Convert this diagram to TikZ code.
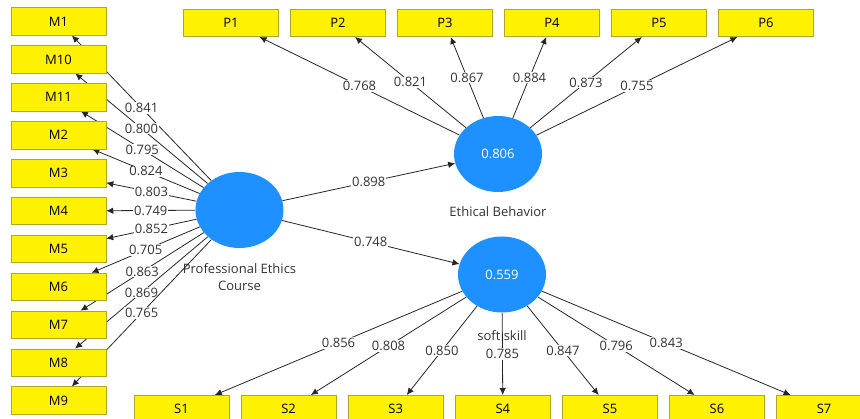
\documentclass[tikz,border=0pt]{standalone}
\usepackage{fontspec}
\setsansfont{Open Sans}
\usetikzlibrary{shapes.geometric,arrows.meta}
\definecolor{lvblue}{RGB}{30,144,255}
\definecolor{boxline}{RGB}{170,170,40}
\pgfdeclarelayer{edges}
\pgfsetlayers{edges,main}

\begin{document}
\begin{tikzpicture}[x=1pt,y=-1pt,font=\sffamily\fontsize{13}{16.5}\selectfont,
  ind/.style={draw=boxline,fill=yellow,line width=0.5pt,minimum width=95pt,minimum height=27.5pt,inner sep=0pt},
  lv/.style={ellipse,fill=lvblue,text=white,minimum width=88pt,minimum height=76pt,inner sep=0pt},
  arr/.style={-{Latex[length=7pt,width=6.5pt]},line width=0.8pt,black!85},
  load/.style={fill=white,inner sep=1pt,text=black!80}]
  \useasboundingbox (0,0) rectangle (860,419);

  \node[lv] (pec) at (239.5,210) {};
  \node[lv] (eb) at (498,154) {0.806};
  \node[lv] (ss) at (502,274.5) {0.559};

  \foreach \n [count=\i] in {1,10,11,2,3,4,5,6,7,8,9}
    \node[ind] (m\n) at (58.5,{21.5+37.9*(\i-1)}) {M\n};
  \foreach \i in {1,...,6}
    \node[ind] (p\i) at ({231+107*(\i-1)},23) {P\i};
  \foreach \i in {1,...,7}
    \node[ind] (s\i) at ({181.5+107.1*(\i-1)},409) {S\i};

  \begin{pgfonlayer}{edges}
  \node[text=black!80,align=center] (peclabel) at (239.5,277) {Professional Ethics\\Course};
  \node[text=black!80] (eblabel) at (498,212) {Ethical Behavior};
  \node[text=black!80] (sslabel) at (502,336) {soft skill};

  \draw[arr] (pec) -- node[load] (lpe) {0.898} (eb);
  \draw[arr] (pec) -- node[load] (lps) {0.748} (ss);

  \foreach \n/\v in {1/0.841,10/0.800,11/0.795,2/0.824,3/0.803,4/0.749,5/0.852,6/0.705,7/0.863,8/0.869,9/0.765}
    \draw[arr] (pec) -- node[load] (lm\n) {\v} (m\n);
  \foreach \i/\v in {1/0.768,2/0.821,3/0.867,4/0.884,5/0.873,6/0.755}
    \draw[arr] (eb) -- node[load] (lp\i) {\v} (p\i);
  \foreach \i/\v in {1/0.856,2/0.808,3/0.850,4/0.785,5/0.847,6/0.796,7/0.843}
    \draw[arr] (ss) -- node[load] (ls\i) {\v} (s\i);
  \end{pgfonlayer}
\end{tikzpicture}
\end{document}
